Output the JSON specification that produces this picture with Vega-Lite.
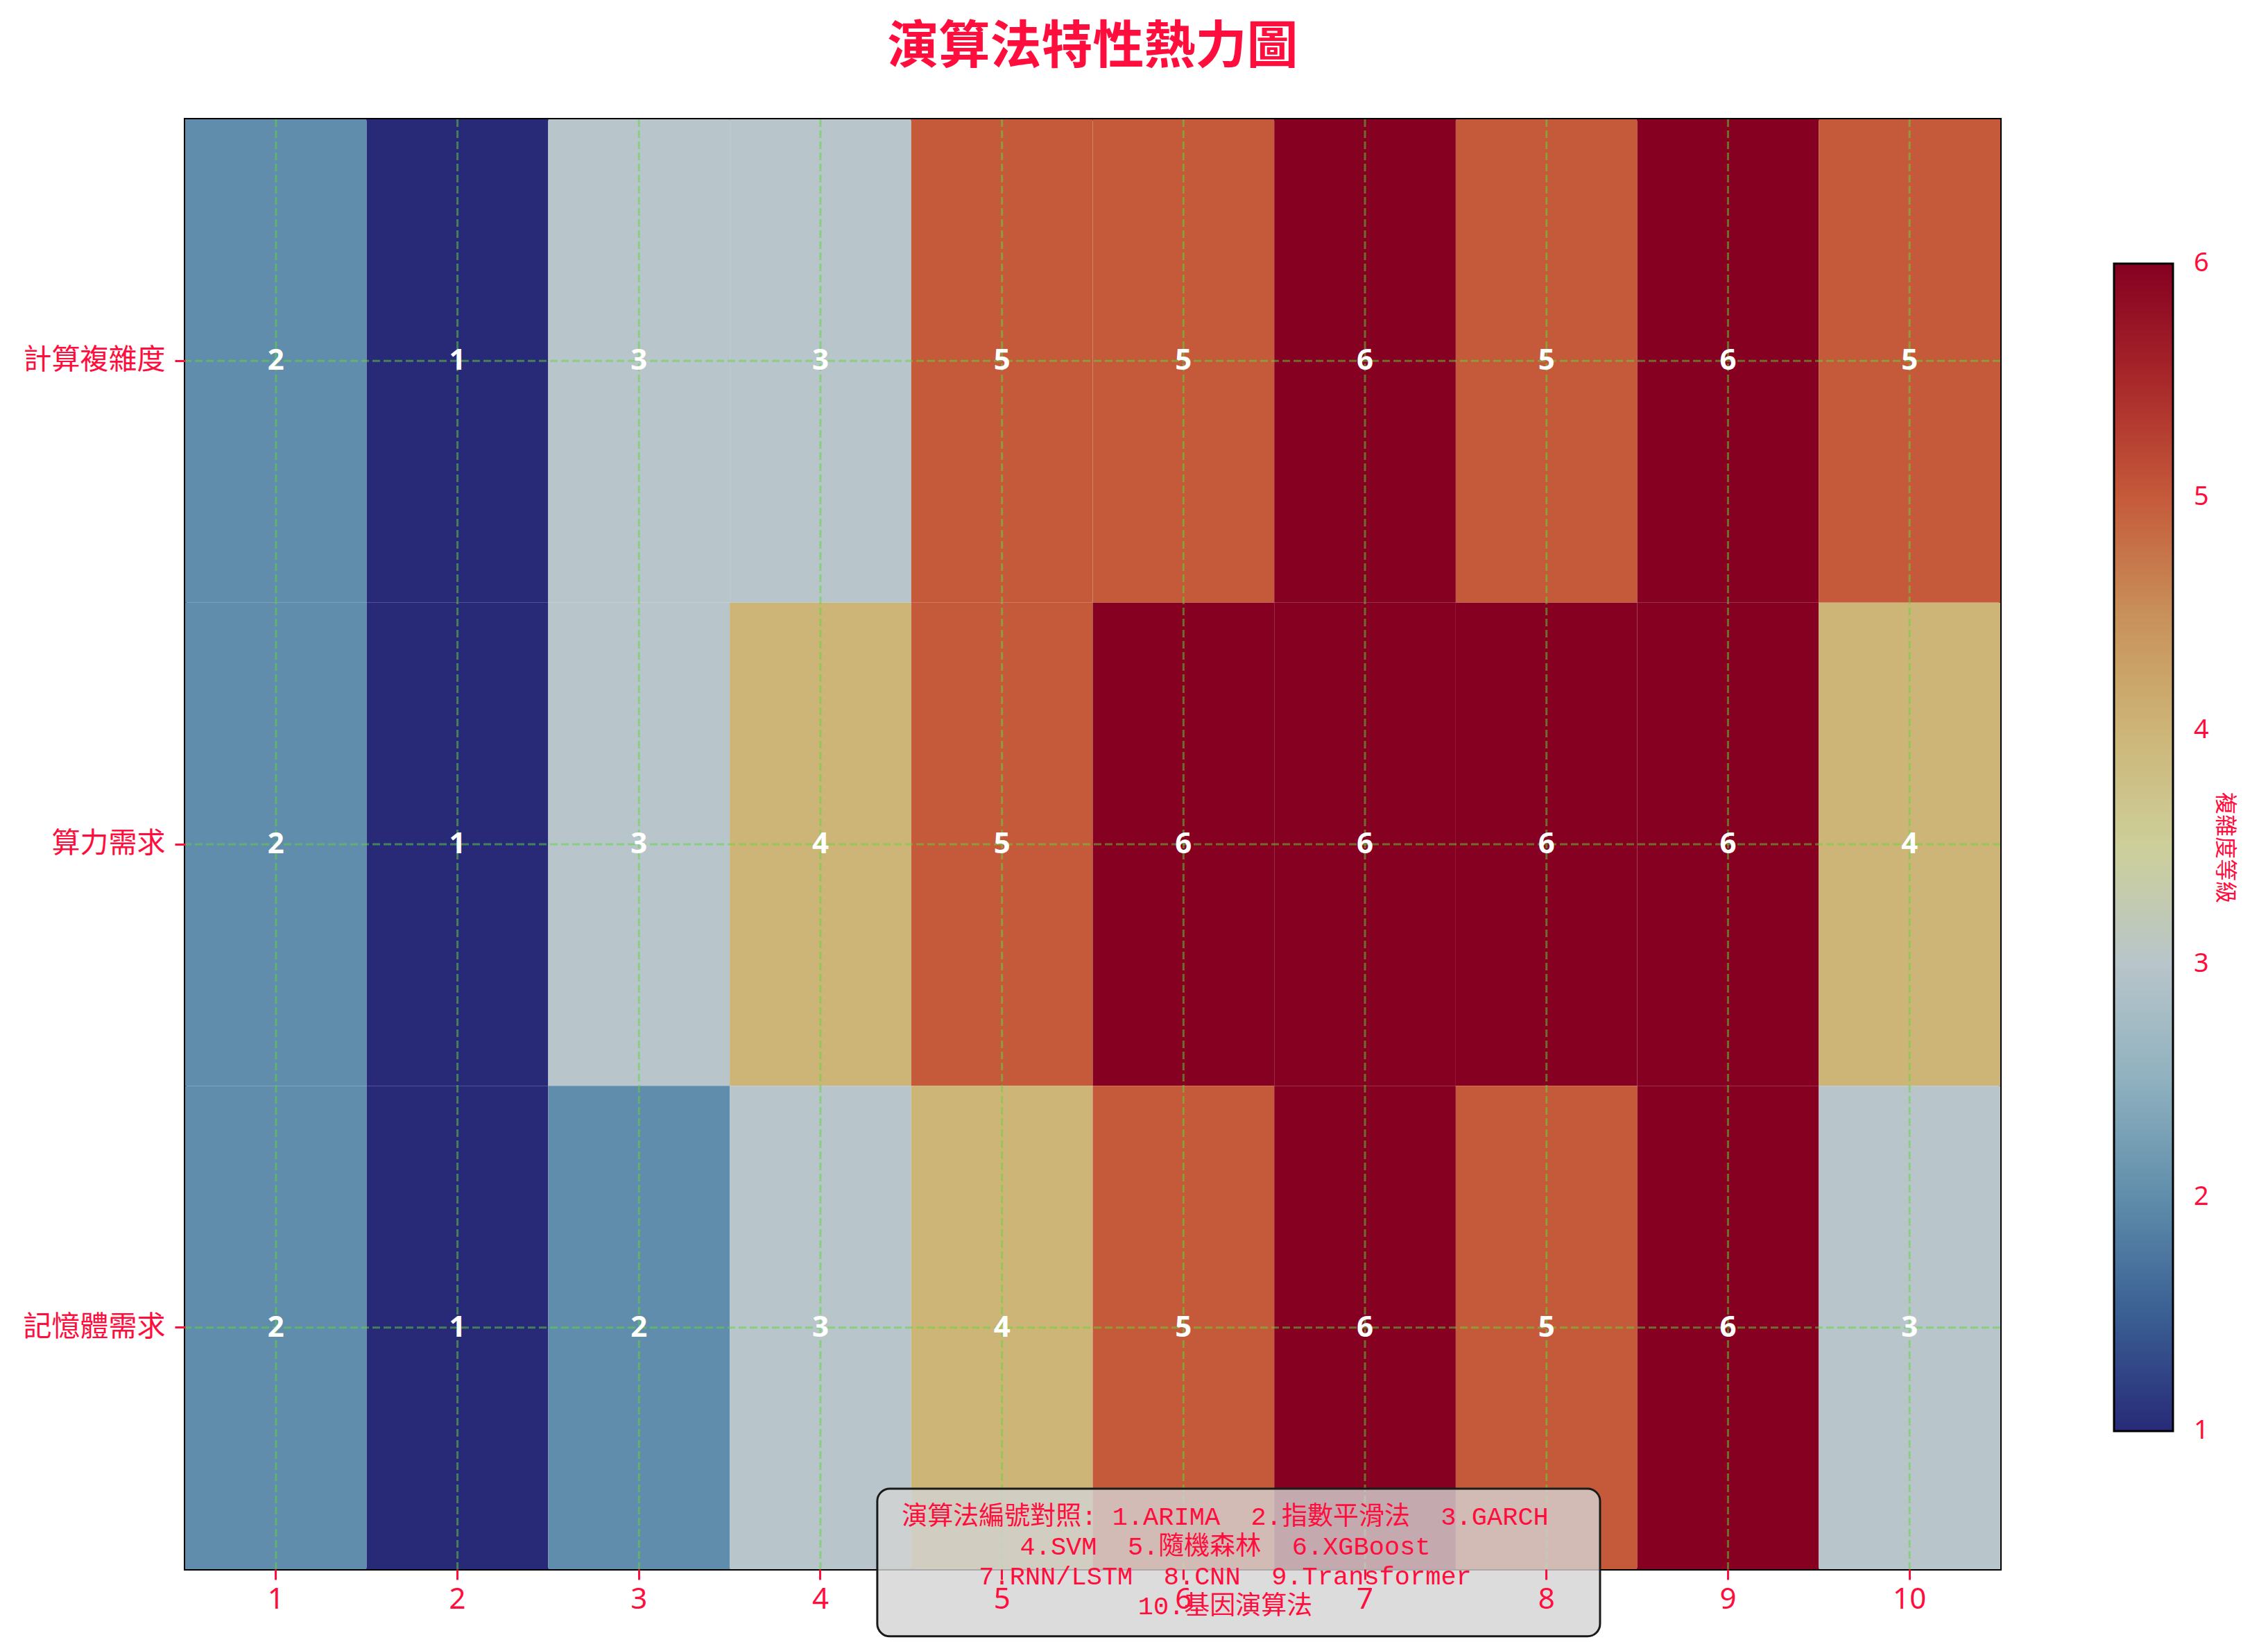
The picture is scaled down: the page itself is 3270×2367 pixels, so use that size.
{
  "$schema": "https://vega.github.io/schema/vega-lite/v6.json",
  "autosize": {"type": "none"},
  "padding": {"left": 267, "top": 172, "right": 386, "bottom": 105},
  "width": 2617,
  "height": 2090,
  "background": "white",
  "config": {
    "view": {"stroke": "#000000", "strokeWidth": 4},
    "axis": {
      "labelColor": "#ff0d3d",
      "tickColor": "#ff0d3d",
      "tickWidth": 3,
      "tickSize": 15,
      "domain": false,
      "grid": false,
      "title": null,
      "labelLimit": 0,
      "bandPosition": 0.5
    }
  },
  "title": {
    "text": "演算法特性熱力圖",
    "font": "Noto Sans CJK TC",
    "fontSize": 74,
    "fontWeight": "bold",
    "color": "#ff0d3d",
    "anchor": "middle",
    "frame": "group",
    "baseline": "bottom",
    "offset": -10
  },
  "datasets": {
    "cells": [
      {"algo": 1, "metric": "計算複雜度", "value": 2},
      {"algo": 2, "metric": "計算複雜度", "value": 1},
      {"algo": 3, "metric": "計算複雜度", "value": 3},
      {"algo": 4, "metric": "計算複雜度", "value": 3},
      {"algo": 5, "metric": "計算複雜度", "value": 5},
      {"algo": 6, "metric": "計算複雜度", "value": 5},
      {"algo": 7, "metric": "計算複雜度", "value": 6},
      {"algo": 8, "metric": "計算複雜度", "value": 5},
      {"algo": 9, "metric": "計算複雜度", "value": 6},
      {"algo": 10, "metric": "計算複雜度", "value": 5},
      {"algo": 1, "metric": "算力需求", "value": 2},
      {"algo": 2, "metric": "算力需求", "value": 1},
      {"algo": 3, "metric": "算力需求", "value": 3},
      {"algo": 4, "metric": "算力需求", "value": 4},
      {"algo": 5, "metric": "算力需求", "value": 5},
      {"algo": 6, "metric": "算力需求", "value": 6},
      {"algo": 7, "metric": "算力需求", "value": 6},
      {"algo": 8, "metric": "算力需求", "value": 6},
      {"algo": 9, "metric": "算力需求", "value": 6},
      {"algo": 10, "metric": "算力需求", "value": 4},
      {"algo": 1, "metric": "記憶體需求", "value": 2},
      {"algo": 2, "metric": "記憶體需求", "value": 1},
      {"algo": 3, "metric": "記憶體需求", "value": 2},
      {"algo": 4, "metric": "記憶體需求", "value": 3},
      {"algo": 5, "metric": "記憶體需求", "value": 4},
      {"algo": 6, "metric": "記憶體需求", "value": 5},
      {"algo": 7, "metric": "記憶體需求", "value": 6},
      {"algo": 8, "metric": "記憶體需求", "value": 5},
      {"algo": 9, "metric": "記憶體需求", "value": 6},
      {"algo": 10, "metric": "記憶體需求", "value": 3}
    ],
    "note": [
      {"lines": ["演算法編號對照: 1.ARIMA\u00a0\u00a02.指數平滑法\u00a0\u00a03.GARCH", "4.SVM\u00a0\u00a05.隨機森林\u00a0\u00a06.XGBoost", "7.RNN/LSTM\u00a0\u00a08.CNN\u00a0\u00a09.Transformer", "10.基因演算法"]}
    ]
  },
  "layer": [
    {
      "data": {"name": "cells"},
      "layer": [
        {
          "mark": {"type": "rect"},
          "encoding": {
            "x": {
              "field": "algo", "type": "ordinal",
              "scale": {"paddingInner": 0, "paddingOuter": 0},
              "axis": {"labelAngle": 0, "labelFont": "Noto Sans", "labelFontSize": 42, "labelPadding": 8}
            },
            "y": {
              "field": "metric", "type": "ordinal",
              "sort": ["計算複雜度", "算力需求", "記憶體需求"],
              "scale": {"paddingInner": 0, "paddingOuter": 0},
              "axis": {"labelFont": "Noto Sans CJK TC", "labelFontSize": 41, "labelPadding": 14}
            },
            "color": {
              "field": "value", "type": "quantitative",
              "scale": {
                "domain": [1, 1.5, 2, 2.5, 3, 3.5, 4, 4.5, 5, 5.5, 6],
                "range": ["#282a78", "#3a5f93", "#5f8dab", "#8fb1bf", "#b8c5ca", "#cdcf9a", "#cdb577", "#c8905a", "#c55a3a", "#a8282a", "#850021"]
              },
              "legend": {
                "title": "複雜度等級",
                "orient": "none",
                "direction": "vertical",
                "legendX": 2781,
                "legendY": 208,
                "gradientLength": 1683,
                "gradientThickness": 85,
                "gradientStrokeColor": "#000000",
                "gradientStrokeWidth": 3,
                "values": [1, 2, 3, 4, 5, 6],
                "format": "d",
                "labelColor": "#ff0d3d",
                "labelFont": "Noto Sans",
                "labelFontSize": 38,
                "labelOffset": 30,
                "labelBaseline": "middle",
                "labelOverlap": false,
                "titleOrient": "right",
                "titleAngle": 270,
                "titleAnchor": "middle",
                "titleBaseline": "top",
                "titleColor": "#ff0d3d",
                "titleFont": "Noto Sans CJK TC",
                "titleFontSize": 32,
                "titleFontWeight": "normal",
                "titlePadding": 38,
                "encode": {"labels": {"update": {"baseline": {"value": "middle"}}}}
              }
            }
          }
        },
        {
          "transform": [{"aggregate": [{"op": "count", "as": "n"}], "groupby": ["algo"]}],
          "mark": {"type": "rule", "color": "#5fd838", "opacity": 0.5, "strokeWidth": 3, "strokeDash": [11, 5]},
          "encoding": {"x": {"field": "algo", "type": "ordinal"}}
        },
        {
          "transform": [{"aggregate": [{"op": "count", "as": "n"}], "groupby": ["metric"]}],
          "mark": {"type": "rule", "color": "#5fd838", "opacity": 0.5, "strokeWidth": 3, "strokeDash": [11, 5]},
          "encoding": {"y": {"field": "metric", "type": "ordinal", "sort": ["計算複雜度", "算力需求", "記憶體需求"]}}
        },
        {
          "mark": {"type": "text", "font": "Noto Sans", "fontSize": 42, "fontWeight": "bold", "color": "#ffffff", "baseline": "middle", "align": "center"},
          "encoding": {
            "x": {"field": "algo", "type": "ordinal"},
            "y": {"field": "metric", "type": "ordinal", "sort": ["計算複雜度", "算力需求", "記憶體需求"]},
            "text": {"field": "value", "type": "quantitative"}
          }
        }
      ]
    },
    {
      "data": {"name": "note"},
      "layer": [
        {
          "mark": {"type": "rect", "fill": "#d3d3d3", "fillOpacity": 0.8, "stroke": "#1a1a1a", "strokeWidth": 3, "cornerRadius": 18, "clip": false},
          "encoding": {
            "x": {"datum": 4.313, "type": "quantitative", "scale": {"domain": [0.5, 10.5], "nice": false, "zero": false}, "axis": null},
            "x2": {"datum": 8.295},
            "y": {"datum": -0.139, "type": "quantitative", "scale": {"domain": [0, 3], "nice": false, "zero": false}, "axis": null},
            "y2": {"datum": 0.1665}
          }
        },
        {
          "mark": {
            "type": "text", "font": "Liberation Mono, Noto Sans CJK TC", "fontSize": 37, "lineHeight": 43,
            "color": "#ff0d3d", "align": "center", "baseline": "middle", "clip": false
          },
          "encoding": {
            "x": {"datum": 6.23, "type": "quantitative", "axis": null},
            "y": {"datum": 0.1077, "type": "quantitative", "axis": null},
            "text": {"field": "lines"}
          }
        }
      ]
    }
  ],
  "resolve": {"scale": {"x": "independent", "y": "independent"}}
}
